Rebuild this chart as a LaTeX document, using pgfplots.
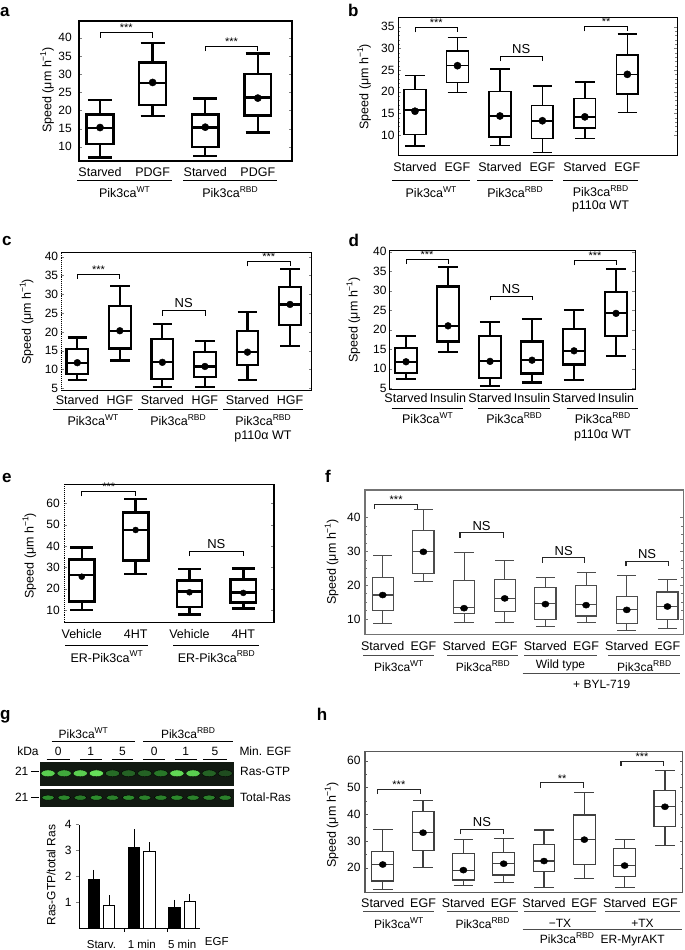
\documentclass[border=0pt]{standalone}
\usepackage{fontspec}
\setmainfont{Liberation Sans}
\usepackage{pgfplots}
\pgfplotsset{compat=1.18}
\usepackage{pgfplotstable}
\usepgfplotslibrary{statistics}
\newcommand{\sps}[1]{\raisebox{0.42em}{\fontsize{8.5}{8.5}\selectfont #1}}
\definecolor{blotbg}{RGB}{18,26,18}

% box-plot summaries: position, lower whisker, lower quartile, median, upper quartile, upper whisker, mean
\pgfplotstableread{
pos lw lq med uq uw mean
1 7.1 10.7 15.2 18.9 22.9 15.3
2 18.4 21.5 27.6 33.2 38.5 27.7
3 7.4 10.0 15.3 18.9 23.3 15.4
4 13.9 18.6 23.6 30.1 35.7 23.4
}\dA
\pgfplotstableread{
pos lw lq med uq uw mean
1 7.5 10.1 15.8 20.5 23.7 15.5
2 19.8 22.1 26.0 29.4 32.5 26.0
3 7.6 9.6 14.4 20.1 25.2 14.4
4 6.0 9.2 13.3 16.8 21.3 13.3
5 9.2 11.6 14.2 18.4 22.2 14.2
6 15.2 19.5 24.0 28.5 33.3 24.0
}\dB
\pgfplotstableread{
pos lw lq med uq uw mean
1 7.2 8.8 11.8 15.4 18.5 11.8
2 12.4 15.6 20.3 26.8 32.1 20.3
3 5.4 7.5 12.0 18.2 22.0 11.9
4 5.3 8.1 10.8 14.6 17.5 10.8
5 7.1 11.2 14.6 20.2 25.2 14.6
6 16.3 21.8 27.3 31.9 36.7 27.3
}\dC
\pgfplotstableread{
pos lw lq med uq uw mean
1 7.3 9.0 11.8 15.4 18.4 11.8
2 14.4 17.0 21.0 31.1 36.0 21.0
3 5.6 7.6 12.0 18.4 21.9 11.9
4 6.5 8.8 12.2 17.0 22.8 12.2
5 7.1 11.1 14.6 20.1 25.1 14.6
6 13.3 18.4 24.2 29.6 35.5 24.2
}\dD
\pgfplotstableread{
pos lw lq med uq uw mean
1 10.0 13.9 26.4 33.7 39.2 25.6
2 26.9 33.1 47.5 55.8 62.0 47.5
3 8.0 11.4 18.6 23.9 29.1 18.3
4 10.8 13.6 18.3 24.2 29.5 18.0
}\dE
\pgfplotstableread{
pos lw lq med uq uw mean
1 8.6 12.5 17.1 22.2 28.9 17.1
2 21.1 23.5 29.9 36.2 42.5 29.9
3 8.9 11.5 13.4 21.3 29.6 13.2
4 8.9 12.1 16.1 21.6 27.4 16.1
5 7.7 9.9 14.6 19.4 22.2 14.4
6 8.9 10.9 14.3 20.0 23.8 14.1
7 6.6 8.8 12.9 16.7 23.0 12.7
8 7.2 9.8 13.7 18.0 21.7 13.7
}\dF
\pgfplotstableread{
pos lw lq med uq uw mean
1 11.9 15.0 21.2 26.2 34.3 21.2
2 20.1 26.5 33.1 40.9 45.0 33.1
3 13.3 15.4 19.1 25.2 30.6 19.1
4 14.4 17.3 21.5 25.6 31.0 21.5
5 12.7 18.5 22.5 28.6 34.1 22.5
6 16.0 21.2 30.5 39.7 48.0 30.5
7 12.5 16.6 20.8 27.1 30.6 20.8
8 28.2 35.3 42.8 49.0 56.3 42.8
}\dH
\pgfplotstableread{
x xw xr wt wte rbd rbde
1 0.81 1.19 1.90 0.22 0.87 0.28
2 1.81 2.19 3.14 0.55 2.97 0.23
3 2.81 3.19 0.81 0.15 1.05 0.13
}\dG
\pgfplotstableread{
lane y gtp tot
1 0.5 0.85 0.50
2 0.5 0.65 0.48
3 0.5 0.85 0.42
4 0.5 0.95 0.50
5 0.5 0.35 0.45
6 0.5 0.30 0.50
7 0.5 0.30 0.45
8 0.5 0.40 0.45
9 0.5 0.90 0.48
10 0.5 0.85 0.45
11 0.5 0.30 0.45
12 0.5 0.20 0.45
}\dBlot

% draw one box from a row of a summary table
\newcommand{\bxrow}[3]{%
  \pgfplotstablegetelem{#2}{pos}\of#1\let\vpos\pgfplotsretval
  \pgfplotstablegetelem{#2}{lw}\of#1\let\vlw\pgfplotsretval
  \pgfplotstablegetelem{#2}{lq}\of#1\let\vlq\pgfplotsretval
  \pgfplotstablegetelem{#2}{med}\of#1\let\vmed\pgfplotsretval
  \pgfplotstablegetelem{#2}{uq}\of#1\let\vuq\pgfplotsretval
  \pgfplotstablegetelem{#2}{uw}\of#1\let\vuw\pgfplotsretval
  \edef\doplot{\noexpand\addplot[#3, boxplot prepared={draw direction=y, draw position=\vpos, lower whisker=\vlw, lower quartile=\vlq, median=\vmed, upper quartile=\vuq, upper whisker=\vuw}] coordinates {};}%
  \doplot}

\pgfplotsset{
  spd/.style={
    scale only axis, clip=false, anchor=south west,
    axis line style={line width=1pt},
    xtick style={draw=none},
    tick align=inside, major tick length=3pt, minor tick length=2pt,
    /pgf/number format/assume math mode=true,
    tick label style={font=\fontsize{12}{14}\selectfont},
    xticklabel style={anchor=center, font=\fontsize{12.5}{15}\selectfont},
    yticklabel style={anchor=east, inner sep=0pt},
    boxplot/draw direction=y,
  },
}
\tikzset{
  br/.style={line width=0.8pt, black},
  st/.style={anchor=south, inner sep=0.5pt, font=\fontsize{11}{11}\selectfont},
  ns/.style={anchor=south, inner sep=2.5pt, font=\fontsize{13}{13}\selectfont},
  gl/.style={line width=0.8pt},
  lab/.style={font=\fontsize{12.5}{15}\selectfont, inner sep=0pt, anchor=center},
  yl/.style={font=\fontsize{12.5}{15}\selectfont, inner sep=0pt, anchor=center, rotate=90},
  pl/.style={font=\bfseries\fontsize{17}{17}\selectfont, inner sep=0pt, anchor=base west},
}

\begin{document}
\begin{tikzpicture}
\useasboundingbox (0pt,0pt) rectangle (685pt,-950pt);

% ---------------- panel a
\node[pl] at (0pt,-17pt) {a};
\begin{axis}[spd, at={(79pt,-161pt)}, width=213pt, height=140pt,
  xmin=0.60, xmax=4.65, ymin=6.1, ymax=44.6, ytick={10,15,...,40},
  xtick={1,2,3,4}, xticklabels={Starved,PDGF,Starved,PDGF},
  xticklabel style={yshift=-11pt}, yticklabel style={xshift=-7pt},
  axis line style={line width=1.4pt},
  boxplot/box extend=0.51, boxplot/whisker extend=0.46]
\pgfplotsinvokeforeach{0,...,3}{\bxrow{\dA}{#1}{black, line width=2.4pt}}
\addplot[only marks, mark=*, mark size=3.6pt, black] table[x=pos,y=mean]{\dA};
\addplot[br] coordinates {(1,40)(1,41.4)(2,41.4)(2,40)};
\node[st] at (axis cs:1.5,41.4) {***};
\addplot[br] coordinates {(3,36.3)(3,37.7)(4,37.7)(4,36.3)};
\node[st] at (axis cs:3.5,37.7) {***};
\end{axis}
\node[yl] at (47pt,-90pt) {Speed (μm h\sps{−1})};
\draw[gl] (77pt,-180pt) -- (172pt,-180pt);
\draw[gl] (183pt,-180pt) -- (277pt,-180pt);
\node[lab] at (124.5pt,-192pt) {Pik3ca\sps{WT}};
\node[lab] at (230pt,-192pt) {Pik3ca\sps{RBD}};

% ---------------- panel b
\node[pl] at (348pt,-17pt) {b};
\begin{axis}[spd, at={(398pt,-155pt)}, width=279pt, height=137pt,
  xmin=0.60, xmax=7.17, ymin=5.4, ymax=37, ytick={10,15,...,35},
  minor y tick num=4,
  xtick={1,...,6}, xticklabels={Starved,EGF,Starved,EGF,Starved,EGF},
  xticklabel style={yshift=-12pt}, yticklabel style={xshift=-3.3pt},
  boxplot/box extend=0.51, boxplot/whisker extend=0.46]
\pgfplotsinvokeforeach{0,...,5}{\bxrow{\dB}{#1}{black, line width=1.5pt}}
\addplot[only marks, mark=*, mark size=3.6pt, black] table[x=pos,y=mean]{\dB};
\addplot[br] coordinates {(1,33.7)(1,34.8)(2,34.8)(2,33.7)};
\node[st] at (axis cs:1.5,34.8) {***};
\addplot[br] coordinates {(3,27)(3,28.1)(4,28.1)(4,27)};
\node[ns] at (axis cs:3.5,28.1) {NS};
\addplot[br] coordinates {(5,33.9)(5,35)(6,35)(6,33.9)};
\node[st] at (axis cs:5.5,35) {**};
\end{axis}
\node[yl] at (364pt,-86.7pt) {Speed (μm h\sps{−1})};
\draw[gl] (392pt,-180pt) -- (470pt,-180pt);
\draw[gl] (477pt,-180pt) -- (553pt,-180pt);
\draw[gl] (563pt,-180pt) -- (638pt,-180pt);
\node[lab] at (431pt,-192pt) {Pik3ca\sps{WT}};
\node[lab] at (515pt,-192pt) {Pik3ca\sps{RBD}};
\node[lab] at (600.5pt,-191pt) {Pik3ca\sps{RBD}};
\node[lab] at (600.5pt,-206pt) {p110α WT};

% ---------------- panel c
\node[pl] at (2pt,-245.7pt) {c};
\begin{axis}[spd, at={(61pt,-390.7pt)}, width=251pt, height=138pt,
  xmin=0.617, xmax=6.517, ymin=4.35, ymax=41.06, ytick={5,10,...,40},
  xtick={1,...,6}, xticklabels={Starved,HGF,Starved,HGF,Starved,HGF},
  xticklabel style={yshift=-9.5pt}, yticklabel style={xshift=-2.7pt},
  axis line style={draw=none},
  boxplot/box extend=0.51, boxplot/whisker extend=0.46]
\pgfplotsinvokeforeach{0,...,5}{\bxrow{\dC}{#1}{black, line width=2.2pt}}
\addplot[only marks, mark=*, mark size=3.4pt, black] table[x=pos,y=mean]{\dC};
\addplot[br] coordinates {(1,34.1)(1,35.3)(2,35.3)(2,34.1)};
\node[st] at (axis cs:1.5,35.3) {***};
\addplot[br] coordinates {(3,24.3)(3,25.6)(4,25.6)(4,24.3)};
\node[ns] at (axis cs:3.5,25.6) {NS};
\addplot[br] coordinates {(5,37.4)(5,38.7)(6,38.7)(6,37.4)};
\node[st] at (axis cs:5.5,38.7) {***};
\draw[line width=1pt] (rel axis cs:0,0) -- (rel axis cs:1,0) -- (rel axis cs:1,1) -- (rel axis cs:0,1);
\draw[line width=0.9pt, densely dotted] (rel axis cs:0,1) -- (rel axis cs:0,0);
\end{axis}
\node[yl] at (26.7pt,-321.7pt) {Speed (μm h\sps{−1})};
\draw[gl] (53pt,-409pt) -- (133pt,-409pt);
\draw[gl] (138pt,-409pt) -- (218pt,-409pt);
\draw[gl] (223pt,-409pt) -- (303pt,-409pt);
\node[lab] at (93pt,-420pt) {Pik3ca\sps{WT}};
\node[lab] at (178pt,-420pt) {Pik3ca\sps{RBD}};
\node[lab] at (263pt,-420pt) {Pik3ca\sps{RBD}};
\node[lab] at (263pt,-436.5pt) {p110α WT};

% ---------------- panel d
\node[pl] at (348.3pt,-246.7pt) {d};
\begin{axis}[spd, at={(389.3pt,-389.3pt)}, width=245.7pt, height=139.3pt,
  xmin=0.602, xmax=6.452, ymin=4.74, ymax=40.44, ytick={5,10,...,40},
  xtick={1,...,6}, xticklabels={Starved,Insulin,Starved,Insulin,Starved,Insulin},
  xticklabel style={yshift=-9pt}, yticklabel style={xshift=-2.6pt},
  boxplot/box extend=0.53, boxplot/whisker extend=0.48]
\pgfplotsinvokeforeach{0,...,5}{\bxrow{\dD}{#1}{black, line width=2.2pt}}
\addplot[only marks, mark=*, mark size=3.4pt, black] table[x=pos,y=mean]{\dD};
\addplot[br] coordinates {(1,36.8)(1,38)(2,38)(2,36.8)};
\node[st] at (axis cs:1.5,38) {***};
\addplot[br] coordinates {(3,27.5)(3,28.6)(4,28.6)(4,27.5)};
\node[ns] at (axis cs:3.5,28.6) {NS};
\addplot[br] coordinates {(5,36.5)(5,37.7)(6,37.7)(6,36.5)};
\node[st] at (axis cs:5.5,37.7) {***};
\end{axis}
\node[yl] at (353.3pt,-320pt) {Speed (μm h\sps{−1})};
\draw[gl] (391.7pt,-408pt) -- (463.3pt,-408pt);
\draw[gl] (478pt,-408pt) -- (550pt,-408pt);
\draw[gl] (566.7pt,-408pt) -- (638.3pt,-408pt);
\node[lab] at (427.5pt,-418.3pt) {Pik3ca\sps{WT}};
\node[lab] at (514pt,-418.3pt) {Pik3ca\sps{RBD}};
\node[lab] at (602.5pt,-418.3pt) {Pik3ca\sps{RBD}};
\node[lab] at (602.5pt,-435.5pt) {p110α WT};

% ---------------- panel e
\node[pl] at (2pt,-482.3pt) {e};
\begin{axis}[spd, at={(64pt,-622.3pt)}, width=210pt, height=138pt,
  xmin=0.67, xmax=4.57, ymin=4.23, ymax=68.9, ytick={10,20,...,60},
  xtick={1,2,3,4}, xticklabels={Vehicle,4HT,Vehicle,4HT},
  xticklabel style={yshift=-11.7pt}, yticklabel style={xshift=-4pt},
  axis line style={draw=none},
  boxplot/box extend=0.47, boxplot/whisker extend=0.42]
\pgfplotsinvokeforeach{0,...,3}{\bxrow{\dE}{#1}{black, line width=2.5pt}}
\addplot[only marks, mark=*, mark size=3pt, black] table[x=pos,y=mean]{\dE};
\addplot[br] coordinates {(1,63.3)(1,65.5)(2,65.5)(2,63.3)};
\node[st] at (axis cs:1.5,65.5) {***};
\addplot[br] coordinates {(3,35.3)(3,37.3)(4,37.3)(4,35.3)};
\node[ns] at (axis cs:3.5,37.3) {NS};
\draw[line width=1.2pt] (rel axis cs:0,0) -- (rel axis cs:1,0) -- (rel axis cs:1,1) -- (rel axis cs:0,1);
\draw[line width=0.9pt, densely dotted] (rel axis cs:0,1) -- (rel axis cs:0,0);
\end{axis}
\node[yl] at (29.3pt,-555.7pt) {Speed (μm h\sps{−1})};
\draw[gl] (65pt,-645pt) -- (148.3pt,-645pt);
\draw[gl] (173.3pt,-645pt) -- (259.3pt,-645pt);
\node[lab] at (106.7pt,-656.7pt) {ER-Pik3ca\sps{WT}};
\node[lab] at (216.3pt,-656.7pt) {ER-Pik3ca\sps{RBD}};

% ---------------- panel f
\node[pl] at (325pt,-482.3pt) {f};
\begin{axis}[spd, at={(365pt,-634.3pt)}, width=318.3pt, height=144.3pt,
  xmin=0.565, xmax=8.39, ymin=5.47, ymax=48.2, ytick={10,20,30,40},
  minor y tick num=3,
  xtick={1,...,8}, xticklabels={Starved,EGF,Starved,EGF,Starved,EGF,Starved,EGF},
  xticklabel style={yshift=-11.4pt}, yticklabel style={xshift=-4.3pt},
  axis line style={line width=1.1pt, black!55}, every tick/.style={black!55},
  boxplot/box extend=0.52, boxplot/whisker extend=0.47]
\pgfplotsinvokeforeach{0,...,7}{\bxrow{\dF}{#1}{black!70, line width=1.1pt}}
\addplot[only marks, mark=*, mark size=3.6pt, black, mark options={yscale=0.85}] table[x=pos,y=mean]{\dF};
\addplot[br, line width=1.1pt, black!85] coordinates {(0.8,42.6)(0.8,44)(1.86,44)(1.86,42.6)};
\node[st] at (axis cs:1.33,44) {***};
\addplot[br, line width=1.1pt, black!85] coordinates {(2.9,34.1)(2.9,35.5)(3.96,35.5)(3.96,34.1)};
\node[ns] at (axis cs:3.43,35.5) {NS};
\addplot[br, line width=1.1pt, black!85] coordinates {(4.93,26.7)(4.93,28.1)(5.96,28.1)(5.96,26.7)};
\node[ns] at (axis cs:5.45,28.1) {NS};
\addplot[br, line width=1.1pt, black!85] coordinates {(6.98,25.6)(6.98,27)(8.03,27)(8.03,25.6)};
\node[ns] at (axis cs:7.5,27) {NS};
\end{axis}
\node[yl] at (331.7pt,-562pt) {Speed (μm h\sps{−1})};
\draw[gl, black!70] (363.3pt,-655pt) -- (434.3pt,-655pt);
\draw[gl, black!70] (447.3pt,-655pt) -- (518.3pt,-655pt);
\draw[gl, black!70] (524.3pt,-655pt) -- (596.7pt,-655pt);
\draw[gl, black!70] (608.3pt,-655pt) -- (680pt,-655pt);
\node[lab, font=\fontsize{12}{14}\selectfont] at (398.8pt,-665.7pt) {Pik3ca\sps{WT}};
\node[lab, font=\fontsize{12}{14}\selectfont] at (482.8pt,-665.7pt) {Pik3ca\sps{RBD}};
\node[lab, font=\fontsize{12}{14}\selectfont] at (560.5pt,-665.7pt) {Wild type};
\node[lab, font=\fontsize{12}{14}\selectfont] at (644.2pt,-665.7pt) {Pik3ca\sps{RBD}};
\draw[gl, black!70] (522.7pt,-673.3pt) -- (680pt,-673.3pt);
\node[lab, font=\fontsize{12}{14}\selectfont] at (601.7pt,-684.3pt) {+ BYL-719};

% ---------------- panel g : blot
\node[pl] at (0pt,-719.3pt) {g};
\node[lab, font=\fontsize{12}{14}\selectfont] at (83.3pt,-733.3pt) {Pik3ca\sps{WT}};
\node[lab, font=\fontsize{12}{14}\selectfont] at (188pt,-733.3pt) {Pik3ca\sps{RBD}};
\draw[gl] (51.7pt,-741.7pt) -- (135pt,-741.7pt);
\draw[gl] (143.3pt,-741.7pt) -- (233.3pt,-741.7pt);
\node[lab, font=\fontsize{12}{14}\selectfont] at (28pt,-751.7pt) {kDa};
\node[lab, font=\fontsize{12}{14}\selectfont] at (58.3pt,-751.7pt) {0};
\node[lab, font=\fontsize{12}{14}\selectfont] at (90.8pt,-751.7pt) {1};
\node[lab, font=\fontsize{12}{14}\selectfont] at (122.5pt,-751.7pt) {5};
\node[lab, font=\fontsize{12}{14}\selectfont] at (154.2pt,-751.7pt) {0};
\node[lab, font=\fontsize{12}{14}\selectfont] at (185.8pt,-751.7pt) {1};
\node[lab, font=\fontsize{12}{14}\selectfont] at (215pt,-751.7pt) {5};
\foreach \a/\b in {46.7/70, 80/101.7, 111.7/133.3, 143.3/165, 175/196.7, 203.3/226.7}
  \draw[gl] (\a pt,-759.3pt) -- (\b pt,-759.3pt);
\node[lab, font=\fontsize{12}{14}\selectfont, anchor=west] at (239.3pt,-751.7pt) {Min. EGF};
\begin{axis}[at={(40pt,-785pt)}, anchor=south west, scale only axis, width=193.3pt, height=23.3pt,
  xmin=0.5, xmax=12.5, ymin=0, ymax=1, ticks=none,
  axis background/.style={fill=blotbg}, axis line style={draw=blotbg},
  colormap={blot}{rgb255=(22,34,22) rgb255=(45,140,45) rgb255=(110,235,95)},
  point meta min=0, point meta max=1]
\addplot[scatter, only marks, mark=*, mark size=3.4pt, mark options={xscale=2.1},
  scatter/use mapped color={draw=none, fill=mapped color}, point meta=explicit]
  table[x=lane, y=y, meta=gtp]{\dBlot};
\end{axis}
\begin{axis}[at={(40pt,-806pt)}, anchor=south west, scale only axis, width=193.3pt, height=16.7pt,
  xmin=0.5, xmax=12.5, ymin=0, ymax=1, ticks=none,
  axis background/.style={fill=blotbg}, axis line style={draw=blotbg},
  colormap={blot}{rgb255=(22,34,22) rgb255=(45,140,45) rgb255=(110,235,95)},
  point meta min=0, point meta max=1]
\addplot[scatter, only marks, mark=*, mark size=2.5pt, mark options={xscale=2.6},
  scatter/use mapped color={draw=none, fill=mapped color}, point meta=explicit]
  table[x=lane, y=y, meta=tot]{\dBlot};
\end{axis}
\node[lab, font=\fontsize{12}{14}\selectfont] at (21.7pt,-771pt) {21};
\draw[gl] (31pt,-771pt) -- (39pt,-771pt);
\node[lab, font=\fontsize{12}{14}\selectfont] at (21.7pt,-797.7pt) {21};
\draw[gl] (31pt,-797.7pt) -- (39pt,-797.7pt);
\node[lab, font=\fontsize{12}{14}\selectfont, anchor=west] at (240pt,-771pt) {Ras-GTP};
\node[lab, font=\fontsize{12}{14}\selectfont, anchor=west] at (240pt,-797.7pt) {Total-Ras};

% ---------------- panel g : bars
\begin{axis}[at={(79.3pt,-928.3pt)}, anchor=south west, scale only axis, clip=false,
  width=120.7pt, height=103.5pt, xmin=0.452, xmax=3.44, ymin=0, ymax=4,
  axis lines=left, axis line style={-, line width=1pt},
  ytick={1,2,3,4}, xtick={1,2,3}, xticklabels={Starv.,1 min,5 min},
  major x tick style={draw=none},
  extra x ticks={1.58,2.64}, extra x tick labels={}, extra x tick style={major x tick style={draw=black}},
  tick align=outside, major tick length=3.5pt, tick style={line width=1pt},
  /pgf/number format/assume math mode=true,
  tick label style={font=\fontsize{12}{14}\selectfont},
  xticklabel style={anchor=center, yshift=-13pt, font=\fontsize{11.5}{13}\selectfont},
  yticklabel style={anchor=east, inner sep=0pt, xshift=-4pt}]
\addplot[ybar, bar width=11.5pt, bar shift=0pt, fill=black, draw=black, line width=1pt]
  table[x=xw, y=wt]{\dG};
\addplot[ybar, bar width=11.5pt, bar shift=0pt, fill=white, draw=black, line width=1.2pt]
  table[x=xr, y=rbd]{\dG};
\addplot[draw=none, mark=none, forget plot,
  error bars/.cd, y dir=plus, y explicit, error bar style={line width=1pt, black, solid},
  error mark options={black, mark size=3.5pt, line width=1pt, solid}]
  table[x=xw, y=wt, y error=wte]{\dG};
\addplot[draw=none, mark=none, forget plot,
  error bars/.cd, y dir=plus, y explicit, error bar style={line width=1pt, black, solid},
  error mark options={black, mark size=3.5pt, line width=1pt, solid}]
  table[x=xr, y=rbd, y error=rbde]{\dG};
\end{axis}
\node[lab, font=\fontsize{11.5}{13}\selectfont] at (216.7pt,-941.3pt) {EGF};
\node[yl, font=\fontsize{12}{14}\selectfont] at (51pt,-875pt) {Ras-GTP/total Ras};

% ---------------- panel h
\node[pl] at (316.7pt,-720.7pt) {h};
\begin{axis}[spd, at={(365pt,-892.7pt)}, width=317.7pt, height=141pt,
  xmin=0.56, xmax=8.44, ymin=10.65, ymax=63.4, ytick={20,30,...,60},
  minor y tick num=1,
  xtick={1,...,8}, xticklabels={Starved,EGF,Starved,EGF,Starved,EGF,Starved,EGF},
  xticklabel style={yshift=-10pt}, yticklabel style={xshift=-4.3pt},
  axis line style={line width=1.2pt, black!65}, every tick/.style={black!65},
  boxplot/box extend=0.54, boxplot/whisker extend=0.49]
\pgfplotsinvokeforeach{0,...,7}{\bxrow{\dH}{#1}{black!75, line width=1.2pt}}
\addplot[only marks, mark=*, mark size=3.6pt, black, mark options={yscale=0.85}] table[x=pos,y=mean]{\dH};
\addplot[br, line width=1.1pt, black!85] coordinates {(0.87,47.5)(0.87,49.3)(1.94,49.3)(1.94,47.5)};
\node[st] at (axis cs:1.4,49.3) {***};
\addplot[br, line width=1.1pt, black!85] coordinates {(2.93,32.5)(2.93,34.3)(3.99,34.3)(3.99,32.5)};
\node[ns] at (axis cs:3.46,34.3) {NS};
\addplot[br, line width=1.1pt, black!85] coordinates {(4.92,50)(4.92,51.8)(5.99,51.8)(5.99,50)};
\node[st] at (axis cs:5.45,51.8) {**};
\addplot[br, line width=1.1pt, black!85] coordinates {(6.91,58.1)(6.91,59.9)(7.96,59.9)(7.96,58.1)};
\node[st] at (axis cs:7.43,59.9) {***};
\end{axis}
\node[yl] at (331.7pt,-825pt) {Speed (μm h\sps{−1})};
\draw[gl, black!70] (363.3pt,-911.7pt) -- (434.3pt,-911.7pt);
\draw[gl, black!70] (446.7pt,-911.7pt) -- (518.3pt,-911.7pt);
\draw[gl, black!70] (524.3pt,-911.7pt) -- (596pt,-911.7pt);
\draw[gl, black!70] (605pt,-911.7pt) -- (680pt,-911.7pt);
\node[lab, font=\fontsize{12}{14}\selectfont] at (398.8pt,-923.3pt) {Pik3ca\sps{WT}};
\node[lab, font=\fontsize{12}{14}\selectfont] at (482.5pt,-923.3pt) {Pik3ca\sps{RBD}};
\node[lab, font=\fontsize{12}{14}\selectfont] at (560pt,-923.3pt) {−TX};
\node[lab, font=\fontsize{12}{14}\selectfont] at (642.5pt,-923.3pt) {+TX};
\draw[gl, black!70] (522.7pt,-929.3pt) -- (681.7pt,-929.3pt);
\node[lab, font=\fontsize{12}{14}\selectfont] at (602.3pt,-939.3pt) {Pik3ca\sps{RBD}\ \ ER-MyrAKT};
\end{tikzpicture}
\end{document}
